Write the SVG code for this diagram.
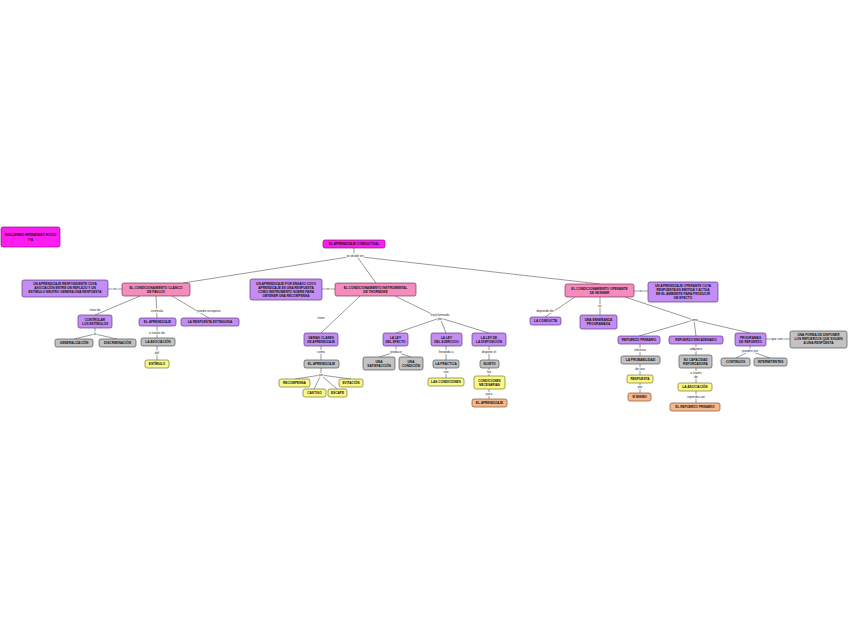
<svg xmlns="http://www.w3.org/2000/svg" width="848" height="638" viewBox="0 0 848 638">
<style>
rect{stroke-width:0.7;rx:2;ry:2}
.mg{fill:#ff1cf0;stroke:#8a0d80}
.pk{fill:#f68bbd;stroke:#7a3a57}
.pu{fill:#c48cf5;stroke:#5e3a86}
.gr{fill:#c2c2c2;stroke:#555}
.ye{fill:#fbf88a;stroke:#7a7630}
.or{fill:#f6b98e;stroke:#8a5530}
text{font-family:"Liberation Sans",Arial,sans-serif;text-anchor:middle}
.n{font-size:3.2px;font-weight:bold;fill:#111}
.l{font-size:3.2px;fill:#222;paint-order:stroke;stroke:#fff;stroke-width:1.6px}
#conn line,#conn polyline{stroke:#555;stroke-width:0.6;fill:none}
</style>
<rect width="848" height="638" fill="#fff"/>
<g id="conn">
<line x1="354" y1="248" x2="354" y2="256"/>
<line x1="348" y1="257" x2="183" y2="283"/>
<line x1="358" y1="258" x2="376" y2="283"/>
<line x1="362" y1="257" x2="600" y2="284"/>
<line x1="108" y1="289" x2="122" y2="289"/>
<line x1="140" y1="296" x2="95" y2="315"/>
<line x1="156" y1="296" x2="157" y2="318"/>
<line x1="172" y1="296" x2="209" y2="318"/>
<line x1="95" y1="328" x2="95" y2="334"/>
<line x1="95" y1="334" x2="74" y2="339"/>
<line x1="95" y1="334" x2="117" y2="339"/>
<line x1="157" y1="326" x2="157" y2="338"/>
<line x1="157" y1="346" x2="157" y2="360"/>
<line x1="322" y1="289" x2="335" y2="289"/>
<line x1="360" y1="296" x2="321" y2="333"/>
<line x1="395" y1="296" x2="440" y2="318"/>
<line x1="440" y1="318" x2="396" y2="333"/>
<line x1="440" y1="318" x2="446" y2="333"/>
<line x1="440" y1="318" x2="489" y2="333"/>
<line x1="321" y1="346" x2="321" y2="360"/>
<line x1="321" y1="368" x2="321" y2="375"/>
<line x1="321" y1="375" x2="295" y2="379"/>
<line x1="321" y1="375" x2="351" y2="379"/>
<line x1="321" y1="375" x2="314" y2="389"/>
<line x1="321" y1="375" x2="337" y2="389"/>
<line x1="396" y1="346" x2="396" y2="352"/>
<line x1="396" y1="352" x2="379" y2="357"/>
<line x1="396" y1="352" x2="411" y2="357"/>
<line x1="446" y1="346" x2="446" y2="360"/>
<line x1="446" y1="368" x2="446" y2="378"/>
<line x1="489" y1="346" x2="489" y2="360"/>
<line x1="489" y1="368" x2="489" y2="376"/>
<line x1="489" y1="389" x2="489" y2="399"/>
<line x1="634" y1="291" x2="648" y2="291"/>
<line x1="575" y1="297" x2="545" y2="317"/>
<line x1="600" y1="297" x2="600" y2="315"/>
<line x1="625" y1="297" x2="694" y2="320"/>
<line x1="694" y1="320" x2="639" y2="336"/>
<line x1="694" y1="320" x2="696" y2="336"/>
<line x1="694" y1="320" x2="750" y2="333"/>
<line x1="766" y1="339" x2="790" y2="339"/>
<line x1="750" y1="346" x2="750" y2="351"/>
<line x1="750" y1="351" x2="736" y2="358"/>
<line x1="750" y1="351" x2="770" y2="358"/>
<line x1="640" y1="344" x2="640" y2="356"/>
<line x1="640" y1="364" x2="640" y2="375"/>
<line x1="640" y1="383" x2="640" y2="393"/>
<line x1="696" y1="344" x2="696" y2="355"/>
<line x1="696" y1="368" x2="696" y2="383"/>
<line x1="696" y1="391" x2="696" y2="403"/>
</g>
<g id="labels">
<text class="l" x="355" y="257">se divide en</text>
<text class="l" x="115" y="290">es</text>
<text class="l" x="95" y="311">trata de</text>
<text class="l" x="157" y="312">estimula</text>
<text class="l" x="209" y="312">puede recuperar</text>
<text class="l" x="95" y="335">la</text>
<text class="l" x="157" y="334">a través de</text>
<text class="l" x="157" y="354">del</text>
<text class="l" x="328" y="290">es</text>
<text class="l" x="321" y="319">tiene</text>
<text class="l" x="321" y="353">como</text>
<text class="l" x="321" y="376">por</text>
<text class="l" x="440" y="316">está formado</text>
<text class="l" x="440" y="320">por</text>
<text class="l" x="396" y="353">produce</text>
<text class="l" x="446" y="353">llevando a</text>
<text class="l" x="446" y="373">con</text>
<text class="l" x="489" y="353">dispone el</text>
<text class="l" x="489" y="373">las</text>
<text class="l" x="489" y="395">para</text>
<text class="l" x="641" y="292">es</text>
<text class="l" x="545" y="312">depende de</text>
<text class="l" x="600" y="307">es</text>
<text class="l" x="694" y="321">como</text>
<text class="l" x="777" y="340">que son</text>
<text class="l" x="750" y="352">pueden ser</text>
<text class="l" x="640" y="351">refuerza</text>
<text class="l" x="640" y="370">de una</text>
<text class="l" x="640" y="388">por</text>
<text class="l" x="696" y="350">adquiere</text>
<text class="l" x="696" y="374">a través</text>
<text class="l" x="696" y="378">de</text>
<text class="l" x="696" y="398">repetida con</text>
</g>
<g id="n0"><rect class="mg" x="1" y="227" width="59" height="20"/><text class="n" x="30.5" y="236">GUILLERMO HERNÁNDEZ ROCIO</text><text class="n" x="30.5" y="240.5">7°A</text></g>
<g id="root"><rect class="mg" x="323" y="240" width="62" height="8"/><text class="n" x="354" y="245.2">EL APRENDIZAJE CONDUCTUAL</text></g>
<g id="pavlov"><rect class="pk" x="122" y="283" width="68" height="13"/><text class="n" x="156" y="288.8">EL CONDICIONAMIENTO CLÁSICO</text><text class="n" x="156" y="292.8">DE PAVLOV</text></g>
<g id="pavlovdef"><rect class="pu" x="22" y="280" width="86" height="17"/><text class="n" x="65" y="285.2">UN APRENDIZAJE RESPONDIENTE CUYA</text><text class="n" x="65" y="289.2">ASOCIACIÓN ENTRE UN REFLEJO Y UN</text><text class="n" x="65" y="293.2">ESTÍMULO NEUTRO GENERA UNA RESPUESTA</text></g>
<g id="controlar"><rect class="pu" x="78" y="315" width="34" height="13"/><text class="n" x="95" y="320.8">CONTROLAR</text><text class="n" x="95" y="324.8">LOS ESTÍMULOS</text></g>
<g id="aprend1"><rect class="pu" x="139" y="318" width="37" height="8"/><text class="n" x="157.5" y="323.2">EL APRENDIZAJE</text></g>
<g id="extinguida"><rect class="pu" x="181" y="318" width="58" height="8"/><text class="n" x="210" y="323.2">LA RESPUESTA EXTINGUIDA</text></g>
<g id="generalizacion"><rect class="gr" x="55" y="339" width="38" height="8"/><text class="n" x="74" y="344.2">GENERALIZACIÓN</text></g>
<g id="discriminacion"><rect class="gr" x="99" y="339" width="37" height="8"/><text class="n" x="117.5" y="344.2">DISCRIMINACIÓN</text></g>
<g id="asociacion1"><rect class="gr" x="141" y="338" width="34" height="8"/><text class="n" x="158" y="343.2">LA ASOCIACIÓN</text></g>
<g id="estimulo"><rect class="ye" x="145" y="360" width="24" height="8"/><text class="n" x="157" y="365.2">ESTÍMULO</text></g>
<g id="thorndike"><rect class="pk" x="335" y="283" width="81" height="13"/><text class="n" x="375.5" y="288.8">EL CONDICIONAMIENTO INSTRUMENTAL</text><text class="n" x="375.5" y="292.8">DE THORNDIKE</text></g>
<g id="thorndikedef"><rect class="pu" x="250" y="279" width="72" height="21"/><text class="n" x="286" y="284.5">UN APRENDIZAJE POR ENSAYO CUYO</text><text class="n" x="286" y="288.5">APRENDIZAJE ES UNA RESPUESTA</text><text class="n" x="286" y="292.5">COMO INSTRUMENTO SOBRE PARA</text><text class="n" x="286" y="296.5">OBTENER UNA RECOMPENSA</text></g>
<g id="clases"><rect class="pu" x="304" y="333" width="34" height="13"/><text class="n" x="321" y="338.8">VARIAS CLASES</text><text class="n" x="321" y="342.8">DE APRENDIZAJE</text></g>
<g id="aprend2"><rect class="gr" x="304" y="360" width="35" height="8"/><text class="n" x="321.5" y="365.2">EL APRENDIZAJE</text></g>
<g id="recompensa"><rect class="ye" x="279" y="379" width="31" height="8"/><text class="n" x="294.5" y="384.2">RECOMPENSA</text></g>
<g id="evitacion"><rect class="ye" x="339" y="379" width="24" height="8"/><text class="n" x="351" y="384.2">EVITACIÓN</text></g>
<g id="castigo"><rect class="ye" x="303" y="389" width="23" height="8"/><text class="n" x="314.5" y="394.2">CASTIGO</text></g>
<g id="escape"><rect class="ye" x="328" y="389" width="19" height="8"/><text class="n" x="337.5" y="394.2">ESCAPE</text></g>
<g id="efecto"><rect class="pu" x="383" y="333" width="25" height="13"/><text class="n" x="395.5" y="338.8">LA LEY</text><text class="n" x="395.5" y="342.8">DEL EFECTO</text></g>
<g id="ejercicio"><rect class="pu" x="431" y="333" width="31" height="13"/><text class="n" x="446.5" y="338.8">LA LEY</text><text class="n" x="446.5" y="342.8">DEL EJERCICIO</text></g>
<g id="disposicion"><rect class="pu" x="472" y="333" width="34" height="13"/><text class="n" x="489" y="338.8">LA LEY DE</text><text class="n" x="489" y="342.8">LA DISPOSICIÓN</text></g>
<g id="satisfaccion"><rect class="gr" x="363" y="357" width="32" height="13"/><text class="n" x="379" y="362.8">UNA</text><text class="n" x="379" y="366.8">SATISFACCIÓN</text></g>
<g id="condicion"><rect class="gr" x="399" y="357" width="24" height="13"/><text class="n" x="411" y="362.8">UNA</text><text class="n" x="411" y="366.8">CONDICIÓN</text></g>
<g id="practica"><rect class="gr" x="433" y="360" width="26" height="8"/><text class="n" x="446" y="365.2">LA PRÁCTICA</text></g>
<g id="condiciones"><rect class="ye" x="428" y="378" width="36" height="8"/><text class="n" x="446" y="383.2">LAS CONDICIONES</text></g>
<g id="sujeto"><rect class="gr" x="480" y="360" width="19" height="8"/><text class="n" x="489.5" y="365.2">SUJETO</text></g>
<g id="necesarias"><rect class="ye" x="474" y="376" width="31" height="13"/><text class="n" x="489.5" y="381.8">CONDICIONES</text><text class="n" x="489.5" y="385.8">NECESARIAS</text></g>
<g id="aprend3"><rect class="or" x="472" y="399" width="35" height="8"/><text class="n" x="489.5" y="404.2">EL APRENDIZAJE</text></g>
<g id="skinner"><rect class="pk" x="565" y="284" width="69" height="13"/><text class="n" x="599.5" y="289.8">EL CONDICIONAMIENTO OPERANTE</text><text class="n" x="599.5" y="293.8">DE SKINNER</text></g>
<g id="skinnerdef"><rect class="pu" x="648" y="282" width="70" height="20"/><text class="n" x="683" y="287.2">UN APRENDIZAJE OPERANTE CUYA</text><text class="n" x="683" y="291.2">RESPUESTA ES EMITIDA Y ACTÚA</text><text class="n" x="683" y="295.2">EN EL AMBIENTE PARA PRODUCIR</text><text class="n" x="683" y="299.2">UN EFECTO</text></g>
<g id="conducta"><rect class="pu" x="530" y="317" width="31" height="8"/><text class="n" x="545.5" y="322.2">LA CONDUCTA</text></g>
<g id="ensenanza"><rect class="pu" x="580" y="315" width="37" height="14"/><text class="n" x="598.5" y="321.2">UNA ENSEÑANZA</text><text class="n" x="598.5" y="325.2">PROGRAMADA</text></g>
<g id="primario"><rect class="pu" x="618" y="336" width="42" height="8"/><text class="n" x="639" y="341.2">REFUERZO PRIMARIO</text></g>
<g id="encadenado"><rect class="pu" x="669" y="336" width="54" height="8"/><text class="n" x="696" y="341.2">REFUERZO ENCADENADO</text></g>
<g id="programas"><rect class="pu" x="735" y="333" width="31" height="13"/><text class="n" x="750.5" y="338.8">PROGRAMAS</text><text class="n" x="750.5" y="342.8">DE REFUERZO</text></g>
<g id="forma"><rect class="gr" x="790" y="331" width="57" height="17"/><text class="n" x="818.5" y="336.2">UNA FORMA DE DISPONER</text><text class="n" x="818.5" y="340.2">LOS REFUERZOS QUE SIGUEN</text><text class="n" x="818.5" y="344.2">A UNA RESPUESTA</text></g>
<g id="continuos"><rect class="gr" x="721" y="358" width="29" height="8"/><text class="n" x="735.5" y="363.2">CONTINUOS</text></g>
<g id="intermitentes"><rect class="gr" x="754" y="358" width="33" height="8"/><text class="n" x="770.5" y="363.2">INTERMITENTES</text></g>
<g id="probabilidad"><rect class="gr" x="621" y="356" width="39" height="8"/><text class="n" x="640.5" y="361.2">LA PROBABILIDAD</text></g>
<g id="respuesta"><rect class="ye" x="627" y="375" width="26" height="8"/><text class="n" x="640" y="380.2">RESPUESTA</text></g>
<g id="simismo"><rect class="or" x="628" y="393" width="23" height="8"/><text class="n" x="639.5" y="398.2">SÍ MISMO</text></g>
<g id="capacidad"><rect class="gr" x="679" y="355" width="33" height="13"/><text class="n" x="695.5" y="360.8">SU CAPACIDAD</text><text class="n" x="695.5" y="364.8">REFORZADORA</text></g>
<g id="asociacion2"><rect class="ye" x="678" y="383" width="34" height="8"/><text class="n" x="695" y="388.2">LA ASOCIACIÓN</text></g>
<g id="refprim"><rect class="or" x="670" y="403" width="50" height="8"/><text class="n" x="695" y="408.2">EL REFUERZO PRIMARIO</text></g>
</svg>
